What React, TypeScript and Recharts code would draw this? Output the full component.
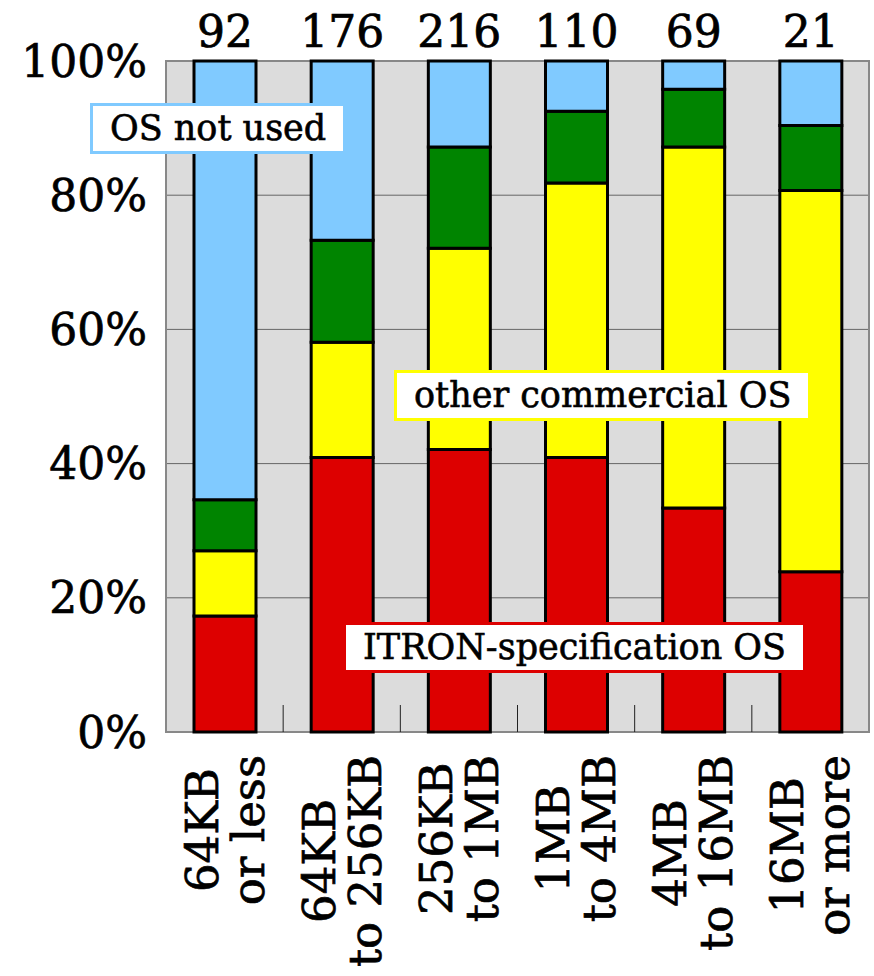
import React, { useLayoutEffect, useRef, useState } from 'react';
import { BarChart, Bar, XAxis, YAxis, CartesianGrid, ReferenceArea, LabelList } from 'recharts';

const categories = ['64KB\nor less', '64KB\nto 256KB', '256KB\nto 1MB', '1MB\nto 4MB', '4MB\nto 16MB', '16MB\nor more'];
const counts = [92, 176, 216, 110, 69, 21];
const itronOS = [17.3, 40.9, 42.1, 40.9, 33.4, 23.9];
const otherOS = [9.7, 17.2, 30.0, 40.9, 53.8, 56.8];
const inHouseOS = [7.6, 15.2, 15.1, 10.7, 8.6, 9.7];
const notUsed = [65.4, 26.7, 12.8, 7.5, 4.2, 9.6];
const yTicks = [0, 20, 40, 60, 80, 100];

const data = categories.map((name, i) => ({
  name,
  count: counts[i],
  itron: itronOS[i],
  other: otherOS[i],
  inhouse: inHouseOS[i],
  none: notUsed[i],
}));

const FONT = '"DejaVu Serif", serif';
const THICK = { stroke: '#000', strokeWidth: 0.7 };

// two-line rotated label (top of longest line pinned under the axis)
// plus the short divider tick between this category and the next
const SizeTick = (props: any) => {
  const { x, y, payload, index, visibleTicksCount, width } = props;
  const lines: string[] = String(payload.value).split('\n');
  const ref = useRef<SVGGElement>(null);
  const [len, setLen] = useState(0);
  useLayoutEffect(() => {
    if (!ref.current) return;
    let m = 0;
    ref.current.querySelectorAll('text').forEach((t) => {
      m = Math.max(m, (t as SVGTextElement).getComputedTextLength());
    });
    setLen(m);
  }, [payload.value]);
  const step = width && visibleTicksCount ? width / visibleTicksCount : 117;
  const cy = y + 23 + len / 2;
  return (
    <g>
      {index < visibleTicksCount - 1 && (
        <line x1={x + step / 2} x2={x + step / 2} y1={y - 27} y2={y} stroke="#222" strokeWidth={1} />
      )}
      <g ref={ref} transform={`translate(${x},${cy}) rotate(-90)`}>
        {lines.map((l, i) => (
          <text
            key={i}
            x={0}
            y={(i - (lines.length - 1) / 2) * 46 + 16}
            textAnchor="middle"
            fontFamily={FONT}
            fontSize={45}
            fill="#000"
            {...THICK}
          >
            {l}
          </text>
        ))}
      </g>
    </g>
  );
};

const boxStyle = (color: string): React.CSSProperties => ({
  position: 'absolute',
  background: '#fff',
  border: `3px solid ${color}`,
  fontFamily: FONT,
  fontSize: 35,
  lineHeight: '45px',
  padding: '0 17px',
  whiteSpace: 'nowrap',
  color: '#000',
  WebkitTextStroke: '0.6px #000',
});

export default function App() {
  return (
    <div style={{ position: 'absolute', left: 0, top: 0, width: 874, height: 976, background: '#fff' }}>
      <BarChart width={874} height={976} data={data} margin={{ top: 61, right: 5, bottom: 0, left: 0 }} barSize={62}>
        <CartesianGrid vertical={false} fill="#dcdcdc" fillOpacity={1} stroke="#666" strokeWidth={1} yAxisId="pct" xAxisId="cat" />
        <XAxis
          xAxisId="cat"
          dataKey="name"
          height={244}
          axisLine={false}
          tickLine={false}
          tickSize={0}
          tickMargin={0}
          interval={0}
          tick={(p: any) => <SizeTick {...p} />}
        />
        <YAxis
          yAxisId="pct"
          width={166}
          domain={[0, 100]}
          ticks={yTicks}
          tickFormatter={(v) => `${v}%`}
          axisLine={false}
          tickLine={false}
          tickMargin={13}
          tick={{ fontFamily: FONT, fontSize: 44, fill: '#000', ...THICK }}
        />
        <ReferenceArea xAxisId="cat" yAxisId="pct" y1={0} y2={100} fill="none" stroke="#888" strokeWidth={2} />
        <Bar xAxisId="cat" yAxisId="pct" dataKey="itron" stackId="s" fill="#dd0000" stroke="#000" strokeWidth={3} isAnimationActive={false} />
        <Bar xAxisId="cat" yAxisId="pct" dataKey="other" stackId="s" fill="#ffff00" stroke="#000" strokeWidth={3} isAnimationActive={false} />
        <Bar xAxisId="cat" yAxisId="pct" dataKey="inhouse" stackId="s" fill="#008400" stroke="#000" strokeWidth={3} isAnimationActive={false} />
        <Bar xAxisId="cat" yAxisId="pct" dataKey="none" stackId="s" fill="#80caff" stroke="#000" strokeWidth={3} isAnimationActive={false}>
          <LabelList dataKey="count" position="top" offset={14} fontFamily={FONT} fontSize={44} fill="#000" {...THICK} />
        </Bar>
      </BarChart>
      <div style={{ ...boxStyle('#80caff'), left: 90, top: 103 }}>OS not used</div>
      <div style={{ ...boxStyle('#ffff00'), left: 394, top: 370 }}>other commercial OS</div>
      <div style={{ ...boxStyle('#dd0000'), left: 343, top: 622 }}>ITRON-specification OS</div>
    </div>
  );
}
